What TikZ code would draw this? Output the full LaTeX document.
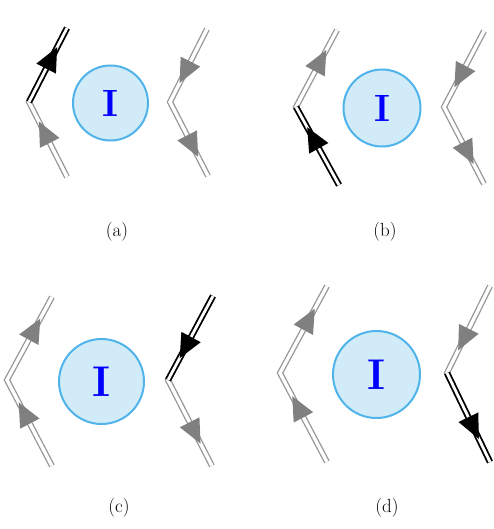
\documentclass[tikz,border=0pt]{standalone}
\usepackage{fontspec}
\usetikzlibrary{decorations.markings}
\definecolor{ringblue}{RGB}{80,180,234}
\definecolor{fillblue}{RGB}{209,236,248}
\definecolor{arrgray}{RGB}{128,128,128}
\definecolor{linegray}{RGB}{150,150,150}
\tikzset{
  grayline/.style={draw=linegray, line width=1.3pt, double=white, double distance=3.4pt},
  blackline/.style={draw=black, line width=1.8pt, double=white, double distance=2.8pt},
  arrowmark/.style={postaction={decorate}, decoration={markings, mark=at position 0.74 with {\fill[#1] (0pt,0pt) -- (-24pt,11pt) -- (-24pt,-11pt) -- cycle;}}},
  blob/.style={circle, draw=ringblue, fill=fillblue, line width=2pt, inner sep=0pt, text=blue},
  caption/.style={font=\fontsize{19}{22}\selectfont}
}
\begin{document}
\begin{tikzpicture}[x=1pt,y=-1pt]
\useasboundingbox (0,0) rectangle (494,529);
% ---------- (a)
\node[blob, minimum size=75pt, font=\fontsize{38}{40}\selectfont\bfseries] (ca) at (110.5,103) {I};
\coordinate (aLt) at (67,28); \coordinate (aLm) at (29,102); \coordinate (aLb) at (67,177);
\coordinate (aRt) at (207,29); \coordinate (aRm) at (170,102); \coordinate (aRb) at (208,176);
\draw[grayline] (aLb) -- (aLm) -- (aLt);
\draw[grayline] (aRt) -- (aRm) -- (aRb);
\draw[blackline] (aLm) -- (aLt);
\path[arrowmark=arrgray] (aLb) -- (aLm);
\path[arrowmark=black] (aLm) -- (aLt);
\path[arrowmark=arrgray] (aRt) -- (aRm);
\path[arrowmark=arrgray] (aRm) -- (aRb);
\node[caption] (la) at (117,232) {(a)};
% ---------- (b)
\node[blob, minimum size=77pt, font=\fontsize{38}{40}\selectfont\bfseries] (cb) at (382,108) {I};
\coordinate (bLt) at (337,30); \coordinate (bLm) at (296,107); \coordinate (bLb) at (339,185);
\coordinate (bRt) at (484,31); \coordinate (bRm) at (444,107); \coordinate (bRb) at (484,184);
\draw[grayline] (bLb) -- (bLm) -- (bLt);
\draw[grayline] (bRt) -- (bRm) -- (bRb);
\draw[blackline] (bLb) -- (bLm);
\path[arrowmark=black] (bLb) -- (bLm);
\path[arrowmark=arrgray] (bLm) -- (bLt);
\path[arrowmark=arrgray] (bRt) -- (bRm);
\path[arrowmark=arrgray] (bRm) -- (bRb);
\node[caption] (lb) at (385,232) {(b)};
% ---------- (c)
\node[blob, minimum size=85pt, font=\fontsize{43}{45}\selectfont\bfseries] (cc) at (101.5,381.5) {I};
\coordinate (cLt) at (52,297); \coordinate (cLm) at (7,380); \coordinate (cLb) at (52,466);
\coordinate (cRt) at (213,296); \coordinate (cRm) at (168,380); \coordinate (cRb) at (212,466);
\draw[grayline] (cLb) -- (cLm) -- (cLt);
\draw[grayline] (cRt) -- (cRm) -- (cRb);
\draw[blackline] (cRt) -- (cRm);
\path[arrowmark=arrgray] (cLb) -- (cLm);
\path[arrowmark=arrgray] (cLm) -- (cLt);
\path[arrowmark=black] (cRt) -- (cRm);
\path[arrowmark=arrgray] (cRm) -- (cRb);
\node[caption] (lc) at (119,508) {(c)};
% ---------- (d)
\node[blob, minimum size=87pt, font=\fontsize{43}{45}\selectfont\bfseries] (cd) at (376.5,374.5) {I};
\coordinate (dLt) at (327,286); \coordinate (dLm) at (280,373); \coordinate (dLb) at (327,462);
\coordinate (dRt) at (490,286); \coordinate (dRm) at (447,373); \coordinate (dRb) at (490,462);
\draw[grayline] (dLb) -- (dLm) -- (dLt);
\draw[grayline] (dRt) -- (dRm) -- (dRb);
\draw[blackline] (dRm) -- (dRb);
\path[arrowmark=arrgray] (dLb) -- (dLm);
\path[arrowmark=arrgray] (dLm) -- (dLt);
\path[arrowmark=arrgray] (dRt) -- (dRm);
\path[arrowmark=black] (dRm) -- (dRb);
\node[caption] (ld) at (387,508) {(d)};
\end{tikzpicture}
\end{document}
